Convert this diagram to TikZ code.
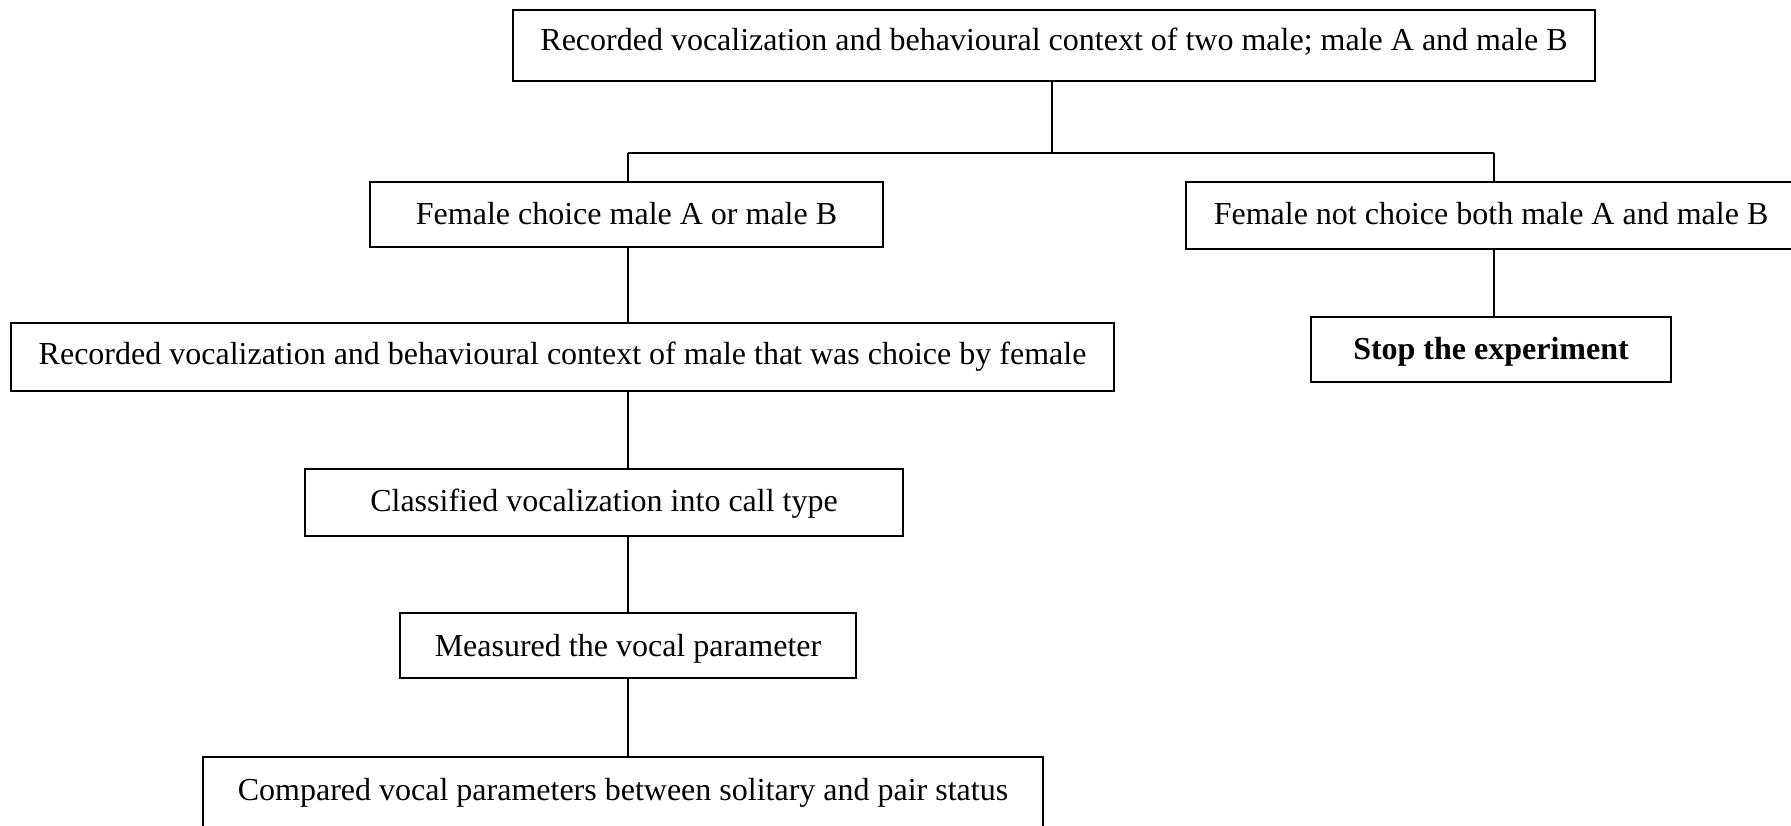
\documentclass[tikz,border=0pt]{standalone}
\usepackage{fontspec}
\setmainfont{Liberation Serif}
\newcommand{\shifttext}[2]{\raisebox{#1}[22pt][7pt]{#2}}
\begin{document}
\begin{tikzpicture}[x=1pt,y=-1pt,
  box/.style={draw, line width=1.6pt, inner sep=0pt, align=center, font=\fontsize{32}{36}\selectfont},
  conn/.style={line width=1.6pt}]
\useasboundingbox (0,0) rectangle (1791,825);
\clip (0,0) rectangle (1791,825);
\node[box, minimum width=1082pt, minimum height=71pt] (top) at (1054,45.5) {\shifttext{2.6pt}{Recorded vocalization and behavioural context of two male; male A and male B}};
\node[box, minimum width=513pt, minimum height=65pt] (fc) at (626.5,214.5) {\shifttext{-2.3pt}{Female choice male A or male B}};
\node[box, minimum width=610pt, minimum height=67pt] (fnc) at (1491,215.5) {\shifttext{-1.1pt}{Female not choice both male A and male B}};
\node[box, minimum width=1103pt, minimum height=68pt] (rec) at (562.5,357) {\shifttext{0pt}{Recorded vocalization and behavioural context of male that was choice by female}};
\node[box, minimum width=360pt, minimum height=65pt, font=\fontsize{32}{36}\selectfont\bfseries] (stop) at (1491,349.5) {\shifttext{-2.3pt}{Stop the experiment}};
\node[box, minimum width=598pt, minimum height=67pt] (cls) at (604,502.5) {\shifttext{-1pt}{Classified vocalization into call type}};
\node[box, minimum width=456pt, minimum height=65pt] (meas) at (628,645.5) {\shifttext{-3.4pt}{Measured the vocal parameter}};
\node[box, minimum width=840pt, minimum height=72pt] (comp) at (623,793) {\shifttext{0pt}{Compared vocal parameters between solitary and pair status}};
\coordinate (busM) at (1052,153);
\coordinate (busL) at (628,153);
\coordinate (busR) at (1494,153);
\draw[conn] (top.south -| busM) -- (busM);
\draw[conn] (busL) -- (busR);
\draw[conn] (busL) -- (busL |- fc.north);
\draw[conn] (busR) -- (busR |- fnc.north);
\draw[conn] (fc.south -| busL) -- (rec.north -| busL);
\draw[conn] (rec.south -| busL) -- (cls.north -| busL);
\draw[conn] (cls.south -| busL) -- (meas.north -| busL);
\draw[conn] (meas.south -| busL) -- (comp.north -| busL);
\draw[conn] (fnc.south -| busR) -- (stop.north -| busR);
\end{tikzpicture}
\end{document}
